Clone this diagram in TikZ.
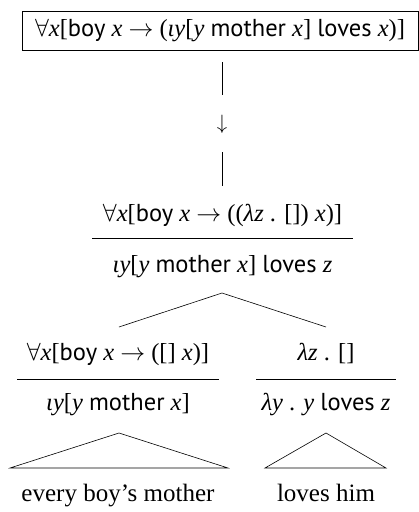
\documentclass[tikz,border=0pt]{standalone}
\usepackage{fontspec}
\setmainfont{Liberation Serif}
\newfontfamily\wsans{PT Sans}
\newcommand{\sw}[1]{{\wsans #1}}
\newcommand{\vv}[1]{\textit{#1}}
\begin{document}
\begin{tikzpicture}[x=1pt,y=-1pt,
  lbl/.style={anchor=base, inner sep=0pt, font=\fontsize{24.5}{29}\selectfont},
  leaf/.style={anchor=base, inner sep=0pt, font=\fontsize{25}{29}\selectfont},
  boxed/.style={draw, line width=0.9pt, minimum width=396pt, minimum height=39pt, inner sep=0pt, font=\fontsize{24.5}{29}\selectfont},
  ln/.style={line width=0.8pt},
  thin/.style={line width=0.6pt}]
\useasboundingbox (0,0) rectangle (419,512);
% top box
\node[boxed] (top) at (220,30.5) {\(\forall\)\vv{x}[\sw{boy} \vv{x} \(\rightarrow\) (\vv{ιy}[\vv{y} \sw{mother} \vv{x}] \sw{loves} \vv{x})]};
% broken connector with arrow
\coordinate (s1a) at (222,62);
\coordinate (s1b) at (222,95);
\coordinate (s2a) at (222,152);
\coordinate (s2b) at (222,186);
\draw[thin] (s1a) -- (s1b);
\node[inner sep=0pt, font=\fontsize{21}{25}\selectfont] (arr) at (222,124) {\(\downarrow\)};
\draw[thin] (s2a) -- (s2b);
% level 2
\node[lbl] (l2t) at (222.5,221) {\(\forall\)\vv{x}[\sw{boy} \vv{x} \(\rightarrow\) ((\vv{λz} . []) \vv{x})]};
\coordinate (l2a) at (92,238);
\coordinate (l2b) at (353,238);
\draw[ln] (l2a) -- (l2b);
\node[lbl] (l2bt) at (222.5,272) {\vv{ιy}[\vv{y} \sw{mother} \vv{x}] \sw{loves} \vv{z}};
% branching
\coordinate (apx) at (222,293);
\coordinate (brl) at (119,327);
\coordinate (brr) at (326,327);
\draw[thin] (brl) -- (apx) -- (brr);
% level 3 left
\node[lbl] (l3lt) at (118,360) {\(\forall\)\vv{x}[\sw{boy} \vv{x} \(\rightarrow\) ([] \vv{x})]};
\coordinate (l3la) at (17,379);
\coordinate (l3lb) at (219,379);
\draw[ln] (l3la) -- (l3lb);
\node[lbl] (l3lbt) at (118,410) {\vv{ιy}[\vv{y} \sw{mother} \vv{x}]};
% level 3 right
\node[lbl] (l3rt) at (326,360) {\vv{λz} . []};
\coordinate (l3ra) at (256,379);
\coordinate (l3rb) at (396,379);
\draw[ln] (l3ra) -- (l3rb);
\node[lbl] (l3rbt) at (326,410) {\vv{λy} . \vv{y} \sw{loves} \vv{z}};
% triangles
\coordinate (tla) at (119,433);
\coordinate (tll) at (10,468);
\coordinate (tlr) at (228,468);
\draw[thin] (tll) -- (tla) -- (tlr) -- cycle;
\coordinate (tra) at (326,433);
\coordinate (trl) at (265,468);
\coordinate (trr) at (386,468);
\draw[thin] (trl) -- (tra) -- (trr) -- cycle;
% leaves
\node[leaf] (lfl) at (118,501) {every boy’s mother};
\node[leaf] (lfr) at (326,501) {loves him};
\end{tikzpicture}
\end{document}
